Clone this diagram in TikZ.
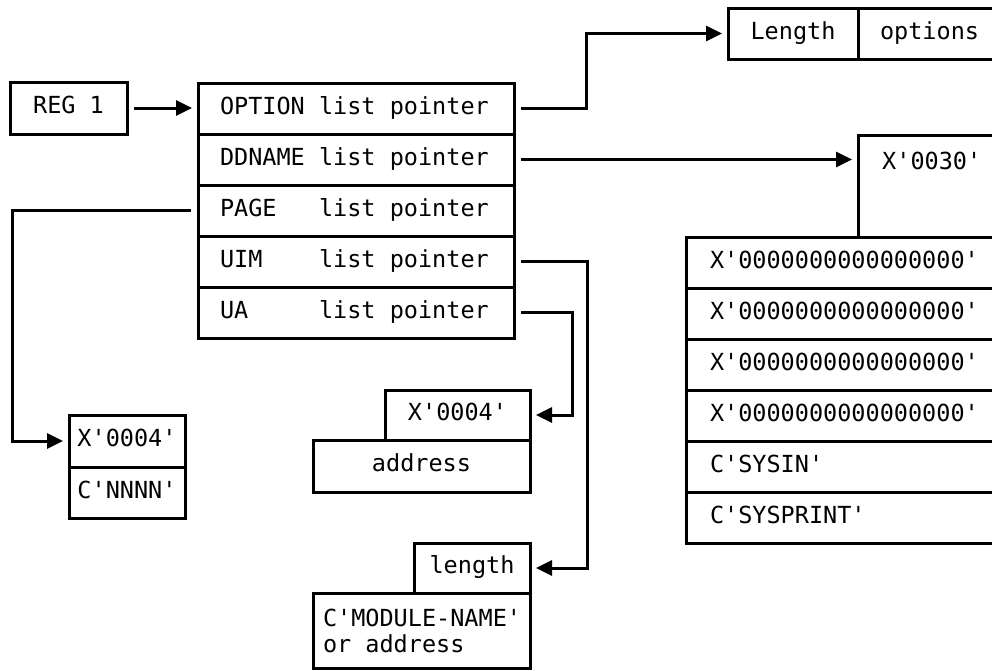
\documentclass[tikz,border=0pt]{standalone}
\usepackage{fontspec}
\setmonofont{DejaVu Sans Mono}
\usetikzlibrary{arrows.meta, positioning}

% monospaced face; \pad is one character cell
\newcommand\dumpfont{\ttfamily\fontsize{23.5pt}{26pt}\selectfont}
\newcommand\pad{\hphantom{X}}

\tikzset{
  cell/.style={draw, line width=3pt, outer sep=0pt, anchor=north west,
    minimum height=51pt, inner xsep=22pt, inner ysep=0pt,
    text height=14pt, text depth=3pt, font=\dumpfont},
  pcell/.style={cell, text width=272pt, align=left},
  zcell/.style={cell, inner xsep=24pt, text width=282pt, align=left},
  cbox/.style={cell, inner xsep=0pt, align=center},
  ptr/.style={draw, line width=3pt, -{Triangle[length=16pt,width=15pt]},
    shorten <=7pt, shorten >=6pt},
}

\begin{document}
\begin{tikzpicture}[x=1pt, y=-1pt]
  \useasboundingbox (0,0) rectangle (992,670);

  % register and parameter list
  \node[cbox, minimum width=117pt, minimum height=52pt] (reg) at (10,82) {REG\pad 1};
  \node[pcell] (opt) at (198,83) {OPTION\pad list\pad pointer};
  \node[pcell, below=0pt of opt] (ddn) {DDNAME\pad list\pad pointer};
  \node[pcell, below=0pt of ddn] (page) {PAGE\pad\pad\pad list\pad pointer};
  \node[pcell, below=0pt of page] (uim) {UIM\pad\pad\pad\pad list\pad pointer};
  \node[pcell, below=0pt of uim] (ua) {UA\pad\pad\pad\pad\pad list\pad pointer};

  % option list
  \node[cbox, minimum width=130pt] (lenb) at (728,8) {Length};
  \node[cell, text width=120pt, align=left, right=0pt of lenb] (optb) {options};

  % ddname list
  \node[draw, line width=3pt, outer sep=0pt, anchor=north west,
    minimum width=150pt, minimum height=102pt] (hdr) at (858,135) {};
  \node[anchor=west, inner sep=0pt, font=\dumpfont]
    (hdrtxt) at ([xshift=24pt, yshift=-25.5pt]hdr.north west) {X'0030'};
  \node[zcell] (z1) at (686,237) {X'0000000000000000'};
  \node[zcell, below=0pt of z1] (z2) {X'0000000000000000'};
  \node[zcell, below=0pt of z2] (z3) {X'0000000000000000'};
  \node[zcell, below=0pt of z3] (z4) {X'0000000000000000'};
  \node[zcell, below=0pt of z4] (z5) {C'SYSIN'};
  \node[zcell, below=0pt of z5] (z6) {C'SYSPRINT'};

  % page list
  \node[cbox, minimum width=116pt, minimum height=52pt] (pglen) at (69,415) {X'0004'};
  \node[cbox, minimum width=116pt, below=0pt of pglen] (pgname) {C'NNNN'};

  % ua list
  \node[cbox, minimum width=145pt, minimum height=50pt] (uax) at (385,390) {X'0004'};
  \node[cbox, minimum width=217pt, minimum height=52pt] (uaddr) at (313,440) {address};

  % uim list
  \node[cbox, minimum width=116pt, minimum height=50pt] (mlen) at (414,543) {length};
  \node[draw, line width=3pt, outer sep=0pt, anchor=north west,
    minimum height=75pt, inner xsep=10pt, text width=197pt, align=left,
    font=\dumpfont] (mname) at (313,593) {C'MODULE-NAME'\\or\pad address};

  % pointers
  \draw[ptr] (reg.east) -- (reg.east -| opt.west);
  \draw[ptr] (opt.east) -- ++(72pt,0) |- (lenb.west);
  \draw[ptr] (ddn.east) -- (ddn.east -| hdr.west);
  \draw[ptr] (page.west) -- ++(-186pt,0) |- (pglen.west);
  \draw[ptr] (uim.east) -- ++(73pt,0) |- (mlen.east);
  \draw[ptr] (ua.east) -- ++(58pt,0) |- (uax.east);
\end{tikzpicture}
\end{document}
